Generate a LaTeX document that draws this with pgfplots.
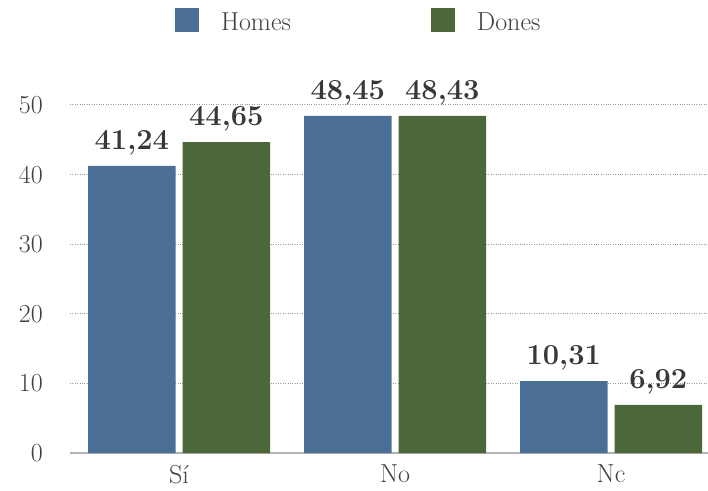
\documentclass[border=0pt]{standalone}
\usepackage{fontspec}
\usepackage{pgfplots}
\pgfplotsset{compat=1.18}
\definecolor{cblue}{HTML}{4A6E94}
\definecolor{cgreen}{HTML}{4C6739}
\definecolor{ctext}{HTML}{404040}
\definecolor{clab}{HTML}{383838}
\begin{document}
\begin{tikzpicture}
\begin{axis}[
  at={(0,0)}, anchor=south west,
  scale only axis,
  width=638bp, height=382.8bp,
  xmin=-0.505, xmax=2.449,
  ymin=0, ymax=55,
  ybar=7bp, bar width=87.5bp,
  xtick={0,1,2}, xticklabels={Sí,No,Nc},
  ytick={0,10,20,30,40,50},
  major tick length=0pt,
  axis x line*=bottom, axis y line*=left,
  y axis line style={draw=none},
  x axis line style={draw=black!30, line width=1.5bp, -},
  ymajorgrids,
  grid style={dotted, draw=black!40, line width=1bp},
  /pgf/number format/assume math mode=true,
  ticklabel style={font=\fontsize{26bp}{30bp}\selectfont, text=ctext, inner sep=0pt},
  yticklabel style={anchor=east, xshift=-27bp},
  xticklabel style={anchor=north, yshift=-12bp},
  nodes near coords,
  nodes near coords style={font=\fontsize{29bp}{34bp}\selectfont\bfseries, text=clab,
    /pgf/number format/fixed, /pgf/number format/fixed zerofill,
    /pgf/number format/precision=2, /pgf/number format/use comma,
    /pgf/number format/assume math mode=true},
  every node near coord/.append style={anchor=base, yshift=16.5bp, inner sep=0pt},
  legend columns=2,
  legend style={draw=none, fill=none, inner sep=0pt, outer sep=0pt,
    at={(0.1646,1.1625)}, anchor=north west,
    font=\fontsize{26bp}{30bp}\selectfont, text=ctext,
    nodes={inner sep=0pt},
    /tikz/every odd column/.append style={column sep=22bp},
    /tikz/every even column/.append style={column sep=140bp}},
  legend image code/.code={\fill[#1] (0bp,-10bp) rectangle (24bp,14bp);},
]
\addplot[fill=cblue, draw=none] coordinates {(0,41.24) (1,48.45) (2,10.31)};
\addplot[fill=cgreen, draw=none] coordinates {(0,44.65) (1,48.43) (2,6.92)};
\legend{Homes,Dones}
\end{axis}
\pgfresetboundingbox
\path (-70bp,-38bp) rectangle (638bp,453bp);
\end{tikzpicture}
\end{document}
